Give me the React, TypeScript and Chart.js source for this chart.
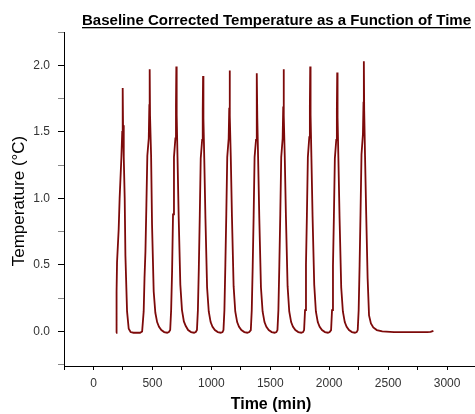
import React, { useEffect, useRef } from "react";
import { Chart, registerables } from "chart.js";

Chart.register(...registerables);

const chartTitle = "Baseline Corrected Temperature as a Function of Time";
const xAxisTitle = "Time (min)";
const yAxisTitle = "Temperature (°C)";

const xTickValues = [-250, 0, 250, 500, 750, 1000, 1250, 1500, 1750, 2000, 2250, 2500, 2750, 3000];
const xMajorTicks = [0, 500, 1000, 1500, 2000, 2500, 3000];
const yTickValues = [-0.25, 0, 0.25, 0.5, 0.75, 1.0, 1.25, 1.5, 1.75, 2.0, 2.25];
const yMajorTicks = [0, 0.5, 1.0, 1.5, 2.0];

const timeMin = [
  192, 196, 200, 214, 222, 237, 244, 248, 251, 257, 265, 271, 285, 299, 315, 340, 370, 395, 413,
  426, 433, 441, 449, 457, 469, 474, 477, 480, 489, 497, 511, 525, 540, 556, 576, 600, 625, 640, 651,
  659, 667, 675, 683, 695, 700, 703, 706, 713, 723, 737, 751, 767, 783, 803, 828, 853, 868, 878,
  886, 894, 902, 910, 922, 927, 930, 933, 940, 950, 964, 978, 994, 1010, 1030, 1055, 1080, 1095, 1103,
  1111, 1119, 1127, 1135, 1147, 1152, 1155, 1158, 1165, 1175, 1189, 1203, 1219, 1235, 1255, 1280, 1305, 1322, 1335,
  1343, 1351, 1359, 1367, 1379, 1384, 1387, 1390, 1397, 1407, 1421, 1435, 1451, 1467, 1487, 1512, 1537, 1552, 1561,
  1569, 1577, 1585, 1593, 1605, 1610, 1613, 1616, 1623, 1633, 1647, 1661, 1677, 1693, 1713, 1738, 1763, 1778, 1787,
  1795, 1803, 1811, 1819, 1831, 1836, 1839, 1842, 1849, 1859, 1873, 1887, 1903, 1919, 1939, 1964, 1989, 2004, 2016,
  2024, 2032, 2040, 2048, 2060, 2065, 2068, 2071, 2078, 2088, 2102, 2116, 2132, 2148, 2168, 2193, 2218, 2233, 2242,
  2250, 2258, 2266, 2274, 2286, 2291, 2294, 2297, 2304, 2314, 2326, 2338, 2354, 2374, 2404, 2450, 2550, 2650, 2750, 2830, 2860, 2884,
];

const tempC = [
  -0.01, 0.3, 0.52, 0.77, 1.0, 1.31, 1.5, 1.83, 1.55, 1.31, 1.0, 0.57, 0.15, 0.02, -0.005, -0.01, -0.01, -0.01, 0.0,
  0.15, 0.4, 0.6, 0.95, 1.32, 1.45, 1.7, 1.97, 1.62, 1.32, 0.8, 0.3, 0.14, 0.07, 0.035, 0.01, -0.005, -0.01, -0.005, 0.01,
  0.16, 0.45, 0.88, 1.31, 1.45, 1.7, 1.99, 1.63, 1.31, 0.86, 0.35, 0.16, 0.075, 0.04, 0.01, -0.005, -0.01, -0.005, 0.01,
  0.16, 0.48, 0.87, 1.3, 1.44, 1.66, 1.92, 1.6, 1.3, 0.85, 0.33, 0.15, 0.07, 0.035, 0.01, -0.005, -0.01, -0.005, 0.01,
  0.16, 0.5, 0.88, 1.31, 1.45, 1.68, 1.96, 1.62, 1.31, 0.86, 0.34, 0.15, 0.07, 0.035, 0.01, -0.005, -0.01, -0.005, 0.01,
  0.16, 0.49, 0.87, 1.31, 1.44, 1.67, 1.94, 1.61, 1.3, 0.85, 0.33, 0.15, 0.07, 0.035, 0.01, -0.005, -0.01, -0.005, 0.01,
  0.16, 0.5, 0.88, 1.31, 1.45, 1.69, 1.97, 1.62, 1.31, 0.86, 0.34, 0.15, 0.07, 0.035, 0.01, -0.005, -0.01, -0.005, 0.01,
  0.16, 0.5, 0.88, 1.31, 1.46, 1.7, 1.99, 1.63, 1.31, 0.86, 0.35, 0.15, 0.07, 0.035, 0.01, -0.005, -0.01, -0.005, 0.01,
  0.16, 0.49, 0.87, 1.3, 1.44, 1.67, 1.945, 1.61, 1.3, 0.85, 0.33, 0.15, 0.07, 0.035, 0.01, -0.005, -0.01, -0.005, 0.01,
  0.16, 0.5, 0.9, 1.33, 1.48, 1.72, 2.03, 1.66, 1.32, 0.88, 0.4, 0.12, 0.06, 0.03, 0.01, 0.0, -0.005, -0.005, -0.006, -0.006, -0.004, 0.004,
];

const isMajor = (v: number, list: number[]) => list.some((m) => Math.abs(m - v) < 1e-6);

const titlesPlugin = {
  id: "customTitles",
  afterDraw(chart: any) {
    const ctx: CanvasRenderingContext2D = chart.ctx;
    ctx.save();
    ctx.fillStyle = "#000";
    ctx.font = "bold 14px 'Liberation Sans', Arial, sans-serif";
    ctx.textAlign = "left";
    ctx.textBaseline = "alphabetic";
    const w = ctx.measureText(chartTitle).width;
    const sx = 389 / w;
    ctx.save();
    ctx.translate(82, 25);
    ctx.scale(sx, 1);
    ctx.fillText(chartTitle, 0, 0);
    ctx.restore();
    ctx.fillRect(82, 27, 389, 1.3);

    ctx.font = "bold 16px 'Liberation Sans', Arial, sans-serif";
    ctx.textAlign = "center";
    ctx.textBaseline = "middle";
    ctx.fillText(xAxisTitle, 271, 405);

    ctx.save();
    ctx.translate(19, 201);
    ctx.rotate(-Math.PI / 2);
    ctx.font = "17px 'Liberation Sans', Arial, sans-serif";
    ctx.textAlign = "center";
    ctx.textBaseline = "middle";
    ctx.fillText(yAxisTitle, 0, 0);
    ctx.restore();
    ctx.restore();
  },
};

export default function App() {
  const ref = useRef<HTMLCanvasElement | null>(null);

  useEffect(() => {
    if (!ref.current) return;
    const chart = new Chart(ref.current, {
      type: "line",
      data: {
        datasets: [
          {
            data: timeMin.map((t, i) => ({ x: t, y: tempC[i] })),
            borderColor: "#7d0a0a",
            borderWidth: 1.8,
            pointRadius: 0,
            tension: 0,
            fill: false,
          },
        ],
      },
      options: {
        animation: false,
        responsive: false,
        maintainAspectRatio: false,
        layout: { padding: { top: 32, left: 0, right: 0, bottom: 0 } },
        plugins: {
          legend: { display: false },
          tooltip: { enabled: false },
          title: { display: false },
        },
        scales: {
          x: {
            type: "linear",
            min: -250,
            max: 3237,
            border: { display: true, color: "#000", width: 1 },
            grid: { drawOnChartArea: false, tickLength: 4, tickColor: "#000" },
            afterBuildTicks: (s: any) => {
              s.ticks = xTickValues.map((v) => ({ value: v }));
            },
            ticks: {
              autoSkip: false,
              maxRotation: 0,
              padding: 6,
              color: "#333",
              font: { family: "'Liberation Sans', Arial, sans-serif", size: 12 },
              callback: (v: any) => (isMajor(Number(v), xMajorTicks) ? String(v) : ""),
            },
            afterFit: (s: any) => {
              s.height = 48;
            },
          },
          y: {
            type: "linear",
            min: -0.26,
            max: 2.25,
            border: { display: true, color: "#000", width: 1 },
            grid: {
              drawOnChartArea: false,
              tickLength: 6,
              tickColor: (c: any) => (isMajor(Number(c.tick?.value), yMajorTicks) ? "#000" : "#888"),
            },
            afterBuildTicks: (s: any) => {
              s.ticks = yTickValues.map((v) => ({ value: v }));
            },
            ticks: {
              autoSkip: false,
              padding: 8,
              color: "#333",
              font: { family: "'Liberation Sans', Arial, sans-serif", size: 12 },
              callback: (v: any) => (isMajor(Number(v), yMajorTicks) ? Number(v).toFixed(1) : ""),
            },
            afterFit: (s: any) => {
              s.width = 64;
            },
          },
        },
      },
      plugins: [titlesPlugin],
    } as any);
    return () => chart.destroy();
  }, []);

  return (
    <div style={{ position: "absolute", left: 0, top: 0, width: 475, height: 414, background: "#fff" }}>
      <canvas ref={ref} width={475} height={414} style={{ width: 475, height: 414, display: "block" }} />
    </div>
  );
}
